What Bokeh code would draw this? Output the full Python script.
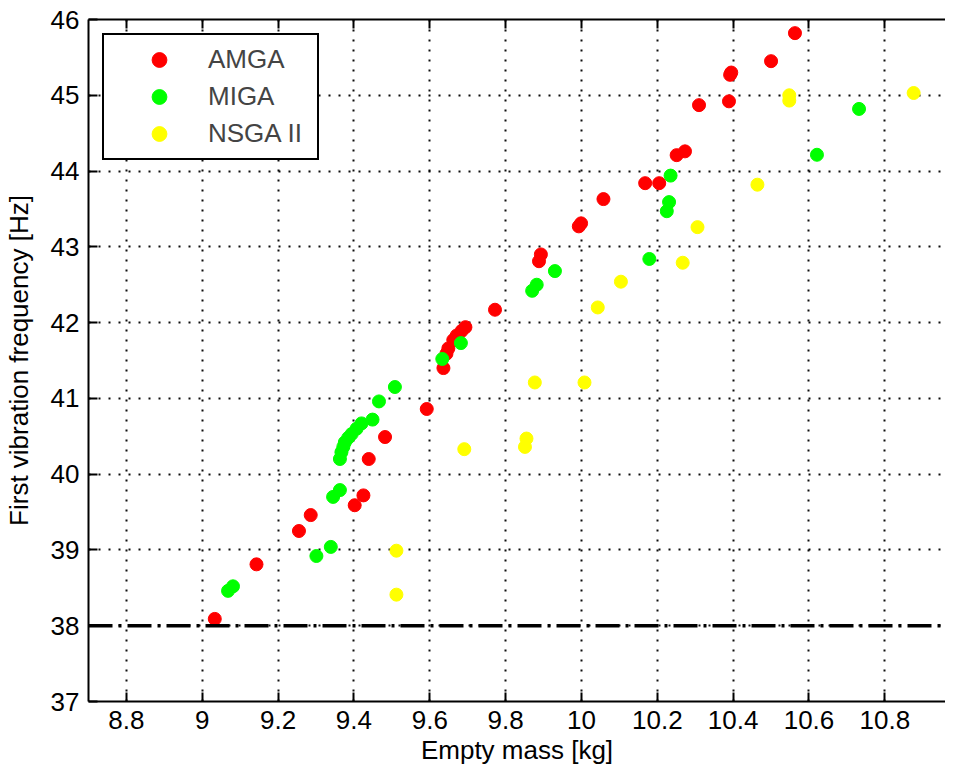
from bokeh.plotting import figure
from bokeh.models import Range1d, LinearAxis, FixedTicker, Span, Legend, LegendItem
from bokeh.embed import file_html
from bokeh.resources import INLINE

# ---- data ----
AMGA_MASS = [9.033, 9.143, 9.255, 9.286, 9.402, 9.425, 9.439, 9.482, 9.592, 9.636,
             9.644, 9.649, 9.662, 9.671, 9.684, 9.694, 9.772, 9.888, 9.893, 9.993,
             9.999, 10.058, 10.168, 10.205, 10.251, 10.273, 10.310, 10.389, 10.392,
             10.395, 10.500, 10.563]
AMGA_FREQ = [38.09, 38.81, 39.25, 39.46, 39.59, 39.72, 40.20, 40.49, 40.86, 41.40,
             41.59, 41.66, 41.77, 41.83, 41.89, 41.94, 42.17, 42.81, 42.90, 43.27,
             43.31, 43.63, 43.84, 43.84, 44.21, 44.26, 44.87, 44.92, 45.27,
             45.30, 45.45, 45.82]

MIGA_MASS = [9.068, 9.081, 9.301, 9.339, 9.345, 9.363, 9.363, 9.367, 9.372, 9.376,
             9.385, 9.394, 9.407, 9.420, 9.449, 9.466, 9.508, 9.633, 9.682, 9.870,
             9.882, 9.930, 10.179, 10.225, 10.231, 10.235, 10.621, 10.732]
MIGA_FREQ = [38.46, 38.52, 38.92, 39.04, 39.70, 39.79, 40.20, 40.29, 40.36, 40.42,
             40.48, 40.53, 40.60, 40.67, 40.72, 40.96, 41.15, 41.52, 41.73, 42.42,
             42.50, 42.68, 42.84, 43.47, 43.59, 43.94, 44.215, 44.82]

NSGA_MASS = [9.512, 9.512, 9.691, 9.851, 9.855, 9.877, 10.008, 10.043, 10.104,
             10.267, 10.306, 10.464, 10.548, 10.548, 10.876]
NSGA_FREQ = [38.41, 38.99, 40.33, 40.36, 40.47, 41.21, 41.21, 42.20, 42.54,
             42.79, 43.26, 43.82, 44.93, 45.00, 45.03]

SERIES_NAMES = ["AMGA", "MIGA", "NSGA II"]
SERIES_COLORS = ["#FF0000", "#00FF00", "#FFFF00"]

XTICKS = [8.8, 9.0, 9.2, 9.4, 9.6, 9.8, 10.0, 10.2, 10.4, 10.6, 10.8]
XTICK_LABELS = ["8.8", "9", "9.2", "9.4", "9.6", "9.8", "10", "10.2", "10.4", "10.6", "10.8"]
YTICKS = [37, 38, 39, 40, 41, 42, 43, 44, 45, 46]
X_LIMITS = (8.7, 10.96)
Y_LIMITS = (37, 46)
FREQ_LIMIT = 38

FONT = "Liberation Sans"
FSIZE = "26px"

p = figure(frame_width=857, frame_height=682,
           x_range=Range1d(*X_LIMITS), y_range=Range1d(*Y_LIMITS),
           output_backend="svg", toolbar_location=None,
           min_border_left=80, min_border_top=19, min_border_right=0, min_border_bottom=0,
           background_fill_color="white", border_fill_color="white")
p.outline_line_color = None

# grid
for g in (p.xgrid, p.ygrid):
    g.grid_line_color = "black"
    g.grid_line_width = 2
    g.grid_line_dash = "2 8"
    g.grid_line_alpha = 0.95
p.xgrid.ticker = FixedTicker(ticks=XTICKS)
p.ygrid.ticker = FixedTicker(ticks=YTICKS)

def style_axis(ax):
    ax.axis_line_color = "black"
    ax.axis_line_width = 2
    ax.major_tick_line_color = "black"
    ax.major_tick_line_width = 2
    ax.major_tick_in = 9
    ax.major_tick_out = 0
    ax.minor_tick_line_color = None
    ax.major_label_text_font = FONT
    ax.major_label_text_font_size = FSIZE
    ax.major_label_text_color = "black"
    ax.axis_label_text_font = FONT
    ax.axis_label_text_font_size = FSIZE
    ax.axis_label_text_font_style = "normal"
    ax.axis_label_text_color = "black"

xa = p.xaxis[0]
style_axis(xa)
xa.ticker = FixedTicker(ticks=XTICKS)
xa.major_label_overrides = {t: l for t, l in zip(XTICKS, XTICK_LABELS)}
xa.axis_label = "Empty mass [kg]"
xa.major_label_standoff = 9
xa.axis_label_standoff = 3

ya = p.yaxis[0]
style_axis(ya)
ya.ticker = FixedTicker(ticks=YTICKS)
ya.axis_label = "First vibration frequency [Hz]"
ya.major_label_standoff = 9
ya.axis_label_standoff = 14

top = LinearAxis(ticker=FixedTicker(ticks=XTICKS))
style_axis(top)
top.major_label_overrides = {t: "" for t in XTICKS}
top.major_label_standoff = 0
p.add_layout(top, "above")

# threshold line
p.add_layout(Span(location=FREQ_LIMIT, dimension="width", line_color="black",
                  line_width=3.5, line_dash="24 6 3 6"))

items = []
for name, color, xs, ys in zip(SERIES_NAMES, SERIES_COLORS,
                               [AMGA_MASS, MIGA_MASS, NSGA_MASS],
                               [AMGA_FREQ, MIGA_FREQ, NSGA_FREQ]):
    r = p.scatter(xs, ys, size=13, fill_color=color, line_color=color)
    items.append(LegendItem(label=name, renderers=[r]))

legend = Legend(items=items, location="top_left", margin=14,
                padding=6, spacing=0, glyph_width=98, glyph_height=37,
                label_height=37, label_width=103, label_standoff=0,
                label_text_font=FONT, label_text_font_size=FSIZE,
                border_line_color="black", border_line_width=2,
                border_line_alpha=1.0,
                background_fill_color="white", background_fill_alpha=1.0)
p.add_layout(legend, "center")

open("out.html", "w").write(file_html(p, INLINE))
